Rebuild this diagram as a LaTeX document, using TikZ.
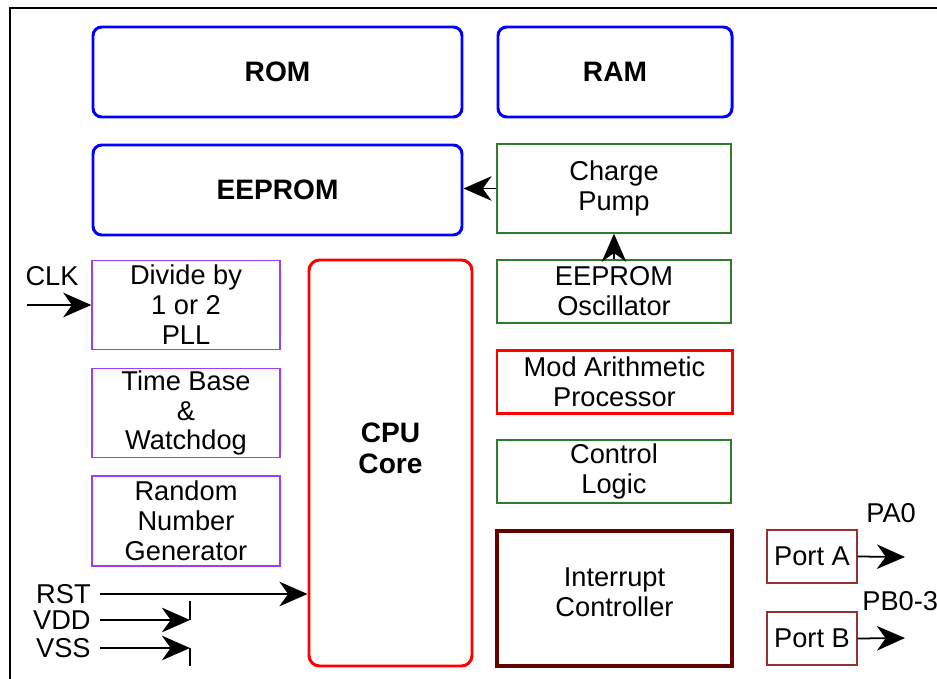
\documentclass[tikz,border=0pt]{standalone}
\usepackage{fontspec}
\setmainfont{Liberation Sans}
\usetikzlibrary{arrows.meta}

\definecolor{memblue}{RGB}{0,0,255}
\definecolor{cpured}{RGB}{255,0,0}
\definecolor{blockgreen}{RGB}{45,125,45}
\definecolor{pllpurple}{RGB}{155,60,255}
\definecolor{intred}{RGB}{100,0,0}
\definecolor{portred}{RGB}{150,50,50}

\tikzset{
  wh/.style 2 args={minimum width=#1*0.02cm, minimum height=#2*0.02cm},
  txt/.style={font=\fontsize{15.5}{17}\selectfont, align=center, inner sep=0pt},
  boldtxt/.style={font=\fontsize{16}{17.5}\selectfont\bfseries, align=center, inner sep=0pt},
  membox/.style={draw=memblue, line width=1.7pt, rounded corners=5pt, boldtxt},
  greenbox/.style={draw=blockgreen, line width=0.8pt, txt},
  purplebox/.style={draw=pllpurple, line width=0.8pt, txt},
  portbox/.style={draw=portred, line width=0.8pt, txt},
  arr/.style={line width=1pt, -{Stealth[length=16pt,width=14pt,inset=5pt]}}
}

\begin{document}
\begin{tikzpicture}[x=0.02cm, y=-0.02cm]
\useasboundingbox (0,0) rectangle (937,679);
\draw[line width=1.2pt] (10,679) -- (10,8) -- (937,8);

% memories
\node[membox, wh={369}{90}] (rom) at (277.5,72) {ROM};
\node[membox, wh={234}{90}] (ram) at (615,72) {RAM};
\node[membox, wh={369}{90}] (eeprom) at (277.5,190) {EEPROM};

% right column
\node[greenbox, wh={234}{89}] (pump) at (614,188.5) {Charge\\Pump};
\node[greenbox, wh={234}{63}] (osc) at (614,291.5) {EEPROM\\Oscillator};
\node[draw=cpured, line width=1.7pt, txt, wh={235}{63}] (mod) at (614.5,382) {Mod Arithmetic\\Processor};
\node[greenbox, wh={234}{63}] (ctrl) at (614,471.5) {Control\\Logic};
\node[draw=intred, line width=2pt, txt, wh={235}{135}] (irq) at (614.5,598.5) {};
\node[txt] (irqtext) at (614.5,592) {Interrupt\\Controller};

% left column
\node[purplebox, wh={188}{89}] (pll) at (186,305) {Divide by\\1 or 2\\PLL};
\node[purplebox, wh={188}{89}] (tbase) at (186,413) {Time Base\\\&\\Watchdog};
\node[purplebox, wh={188}{90}] (rng) at (186,521) {Random\\Number\\Generator};

% cpu
\node[draw=cpured, line width=1.7pt, rounded corners=6pt, wh={163}{406}] (cpu) at (390.5,463) {};
\node[boldtxt] (cputext) at (390.5,448) {CPU\\Core};

% ports
\node[portbox, wh={90}{53}] (porta) at (812,556.5) {Port A};
\node[portbox, wh={90}{53}] (portb) at (812,638.5) {Port B};
\node[txt, anchor=west] (pa) at (866,513) {PA0};
\node[txt, anchor=west] (pb) at (862,601) {PB0-3};
\coordinate (paend) at (905,557);
\coordinate (pbend) at (905,638);
\draw[arr] (porta.east) -- (paend);
\draw[arr] (portb.east) -- (pbend);

\draw[arr] (pump.west) -- (pump.west -| eeprom.east);
\draw[arr] (osc.north) -- (pump.south);

% pins
\node[txt] (clk) at (52,276) {CLK};
\coordinate (clkin) at (27,305);
\draw[arr] (clkin) -- (pll.west);

\node[txt, anchor=east] (rst) at (91,594) {RST};
\node[txt, anchor=east] (vdd) at (91,620) {VDD};
\node[txt, anchor=east] (vss) at (91,648) {VSS};
\coordinate (rstin) at (100,594);
\coordinate (vddin) at (100,620);
\coordinate (vssin) at (100,648);
\coordinate (vddend) at (190,620);
\coordinate (vssend) at (190,648);
\draw[arr] (rstin) -- (rstin -| cpu.west);
\draw[arr] (vddin) -- (vddend);
\draw[arr] (vssin) -- (vssend);
\draw[line width=1pt] (vddend) -- ++(0,-19);
\draw[line width=1pt] (vssend) -- ++(0,18);
\end{tikzpicture}
\end{document}
